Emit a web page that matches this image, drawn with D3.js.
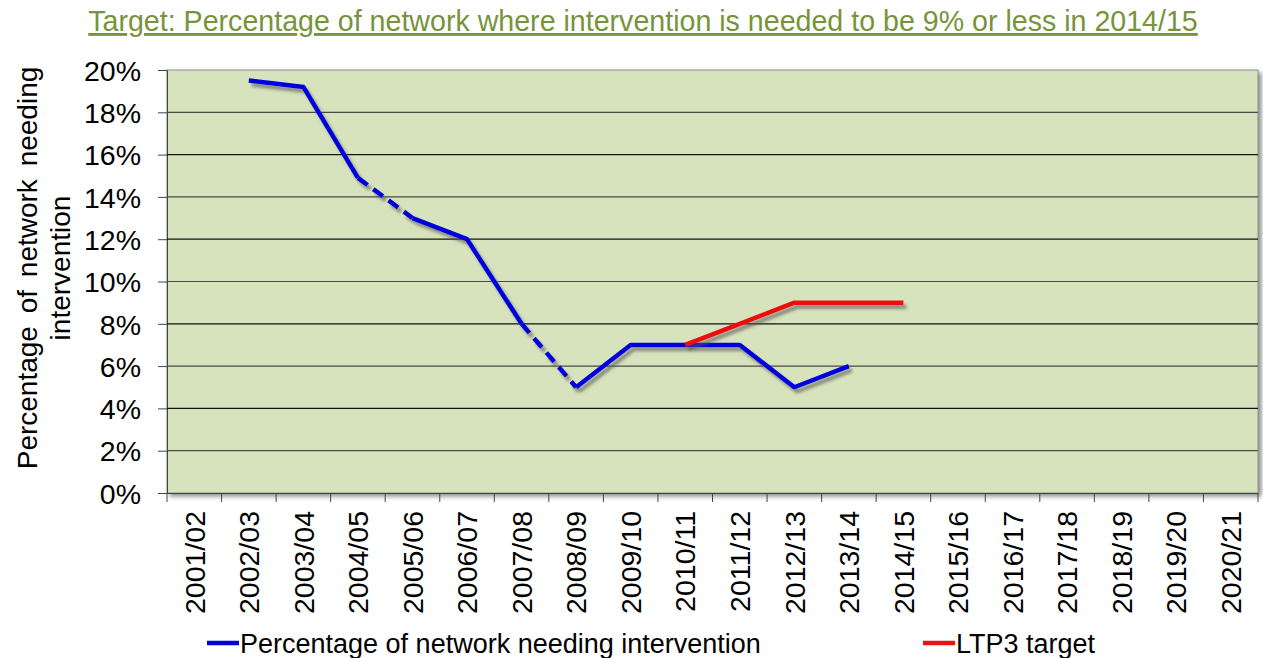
<!DOCTYPE html>
<html>
<head>
<meta charset="utf-8">
<script src="https://cdn.jsdelivr.net/npm/d3@7"></script>
<style>
  body { margin: 0; background: #fff; }
  svg { font-family: "Liberation Sans", Arial, sans-serif; }
</style>
</head>
<body>
<svg width="1263" height="658"></svg>
<script>
const years = ["2001/02", "2002/03", "2003/04", "2004/05", "2005/06", "2006/07", "2007/08",
  "2008/09", "2009/10", "2010/11", "2011/12", "2012/13", "2013/14", "2014/15", "2015/16",
  "2016/17", "2017/18", "2018/19", "2019/20", "2020/21"];
const interventionValues = [null, 19.5, 19.2, 14.9, 13, 12, 8, 5, 7, 7, 7, 5, 6,
  null, null, null, null, null, null, null];
const targetValues = [null, null, null, null, null, null, null, null, null, 7, 8, 9, 9, 9,
  null, null, null, null, null, null];
// segments drawn dashed (start year of segment)
const dashedFrom = ["2004/05", "2007/08"];
const yTicks = [0, 2, 4, 6, 8, 10, 12, 14, 16, 18, 20];
const titleText = "Target: Percentage of network where intervention is needed to be 9% or less in 2014/15";
const legendLabels = ["Percentage of network needing intervention", "LTP3 target"];

const svg = d3.select("svg");
const margin = { top: 70, right: 5, bottom: 165, left: 167 };
const innerWidth = +svg.attr("width") - margin.left - margin.right;
const innerHeight = +svg.attr("height") - margin.top - margin.bottom;

const defs = svg.append("defs");
defs.append("filter").attr("id", "lineShadow")
  .attr("x", "-10%").attr("y", "-10%").attr("width", "120%").attr("height", "130%")
  .append("feDropShadow")
  .attr("dx", 3).attr("dy", 4).attr("stdDeviation", 1.8)
  .attr("flood-color", "#555").attr("flood-opacity", 0.6);
defs.append("filter").attr("id", "boxShadow")
  .attr("x", "-5%").attr("y", "-5%").attr("width", "110%").attr("height", "110%")
  .append("feDropShadow")
  .attr("dx", 3).attr("dy", 3).attr("stdDeviation", 2)
  .attr("flood-color", "#444").attr("flood-opacity", 0.6);

const xScale = d3.scaleBand().domain(years).range([0, innerWidth]);
const yScale = d3.scaleLinear().domain([0, 20]).range([innerHeight, 0]);

// title
svg.append("text")
  .attr("x", 643).attr("y", 31)
  .attr("text-anchor", "middle")
  .attr("fill", "#77933c")
  .attr("font-size", 28.6)
  .attr("text-decoration", "underline")
  .text(titleText);

const g = svg.append("g").attr("transform", `translate(${margin.left},${margin.top})`);

g.append("rect")
  .attr("width", innerWidth).attr("height", innerHeight)
  .attr("fill", "#d7e3bc")
  .attr("stroke", "#8c8c8c")
  .attr("filter", "url(#boxShadow)");

// y axis
const yAxis = d3.axisLeft(yScale)
  .tickValues(yTicks)
  .tickFormat(d => d + "%")
  .tickSize(9)
  .tickPadding(17);
const yAxisG = g.append("g").call(yAxis);
yAxisG.select(".domain").attr("stroke", "#444");
yAxisG.selectAll(".tick line").attr("stroke", "#444");
yAxisG.selectAll(".tick text").attr("font-size", 28.5).attr("fill", "#000").attr("dy", "0.36em");

// gridlines
g.append("g").selectAll("line")
  .data(yTicks.filter(d => d > 0 && d < 20))
  .enter().append("line")
  .attr("x1", 0).attr("x2", innerWidth)
  .attr("y1", d => yScale(d)).attr("y2", d => yScale(d))
  .attr("stroke", (d, i) => i % 2 ? "#111" : "#4a4a4a")
  .attr("stroke-width", 1.2);

// x axis
const xAxis = d3.axisBottom(xScale).tickSize(0).tickPadding(0);
const xAxisG = g.append("g").attr("transform", `translate(0,${innerHeight})`).call(xAxis);
xAxisG.select(".domain").attr("stroke", "#444");
xAxisG.selectAll(".tick text")
  .attr("font-size", 28.5).attr("fill", "#000")
  .attr("text-anchor", "end")
  .attr("transform", "rotate(-90)")
  .attr("x", -18).attr("y", 0).attr("dy", "0.36em");
g.append("g").attr("transform", `translate(0,${innerHeight})`)
  .selectAll("line")
  .data(d3.range(years.length + 1))
  .enter().append("line")
  .attr("x1", i => i * xScale.step()).attr("x2", i => i * xScale.step())
  .attr("y1", 0).attr("y2", 9)
  .attr("stroke", "#444");

// series
const cx = d => xScale(d) + xScale.bandwidth() / 2;
function drawSeries(values, color) {
  const segs = [];
  for (let i = 0; i < values.length - 1; i++) {
    if (values[i] != null && values[i + 1] != null) segs.push(i);
  }
  const sg = g.append("g").attr("filter", "url(#lineShadow)");
  // solid runs
  const solid = segs.filter(i => !dashedFrom.includes(years[i]));
  const runs = [];
  solid.forEach(i => {
    const last = runs[runs.length - 1];
    if (last && last[last.length - 1] === i) last.push(i + 1);
    else runs.push([i, i + 1]);
  });
  const line = d3.line().x(i => cx(years[i])).y(i => yScale(values[i]));
  sg.selectAll("path.solid").data(runs).enter().append("path")
    .attr("class", "solid")
    .attr("d", line)
    .attr("fill", "none").attr("stroke", color)
    .attr("stroke-width", 4.5)
    .attr("stroke-linejoin", "round");
  sg.selectAll("path.dash").data(segs.filter(i => dashedFrom.includes(years[i])).map(i => [i, i + 1]))
    .enter().append("path")
    .attr("class", "dash")
    .attr("d", line)
    .attr("fill", "none").attr("stroke", color)
    .attr("stroke-width", 4.5)
    .attr("stroke-dasharray", "12 7");
}
drawSeries(interventionValues, "#0000dd");
drawSeries(targetValues, "#ee1111");

// y axis title
svg.append("text")
  .attr("transform", "translate(37,268) rotate(-90)")
  .attr("text-anchor", "middle")
  .attr("font-size", 28)
  .attr("word-spacing", 5)
  .text("Percentage of network needing");
svg.append("text")
  .attr("transform", "translate(70,268) rotate(-90)")
  .attr("text-anchor", "middle")
  .attr("font-size", 28)
  .text("intervention");

// legend
const legend = svg.append("g").selectAll("g")
  .data(legendLabels.map((label, i) => ({ label, color: i ? "#ee1111" : "#0000dd", x: i ? 923 : 207 })))
  .enter().append("g")
  .attr("transform", d => `translate(${d.x},643)`);
legend.append("line")
  .attr("x1", 0).attr("x2", 32)
  .attr("stroke", d => d.color).attr("stroke-width", 4.5);
legend.append("text")
  .attr("x", 33).attr("dy", "0.36em")
  .attr("font-size", 27)
  .text(d => d.label);
</script>
</body>
</html>
